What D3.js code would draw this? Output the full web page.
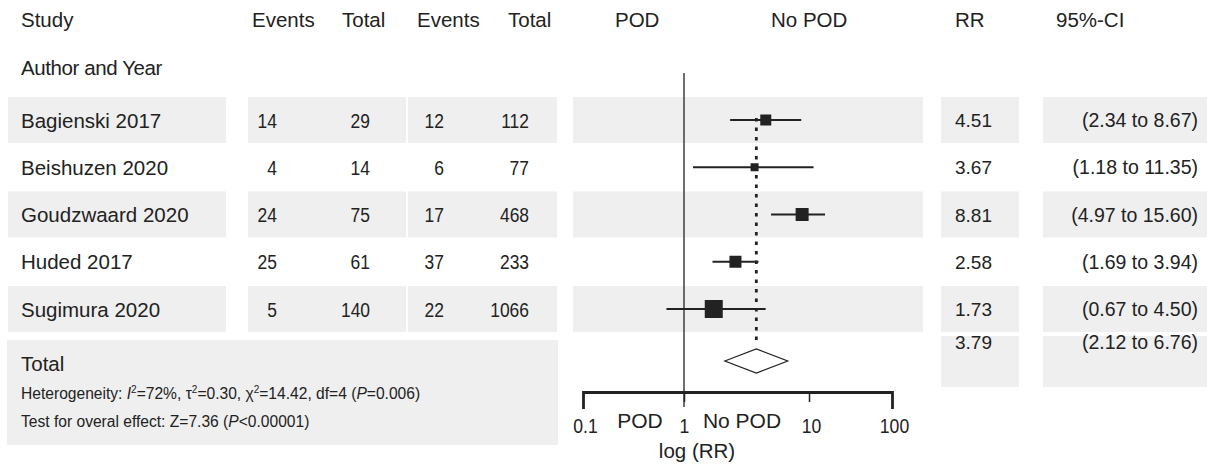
<!DOCTYPE html>
<html>
<head>
<meta charset="utf-8">
<script src="https://cdn.jsdelivr.net/npm/d3@7"></script>
<style>
  html, body { margin: 0; padding: 0; background: #ffffff; }
  svg { display: block; }
  text { font-family: "Liberation Sans", Arial, sans-serif; fill: #222; }
</style>
</head>
<body>
<svg id="chart" width="1207" height="468"></svg>
<script>
// ---------------- data ----------------
const studies      = ["Bagienski 2017", "Beishuzen 2020", "Goudzwaard 2020", "Huded 2017", "Sugimura 2020"];
const podEvents    = [14, 4, 24, 25, 5];
const podTotal     = [29, 14, 75, 61, 140];
const noPodEvents  = [12, 6, 17, 37, 22];
const noPodTotal   = [112, 77, 468, 233, 1066];
const rr           = [4.51, 3.67, 8.81, 2.58, 1.73];
const ciLow        = [2.34, 1.18, 4.97, 1.69, 0.67];
const ciHigh       = [8.67, 11.35, 15.60, 3.94, 4.50];
const ciText       = ["(2.34 to 8.67)", "(1.18 to 11.35)", "(4.97 to 15.60)", "(1.69 to 3.94)", "(0.67 to 4.50)"];
const weights      = [11, 8, 13, 12, 18];   // relative study weight (box size)
const pooledRR     = 3.79;
const pooledCI     = [2.12, 6.76];
const pooledCIText = "(2.12 to 6.76)";
const axisTicks    = [0.1, 1, 10, 100];
const headerLabels = ["Study", "Events", "Total", "Events", "Total", "POD", "No POD", "RR", "95%-CI"];

// ---------------- layout ----------------
const svg = d3.select("#chart");
const BAND = "#efefef";
const INK = "#222";
const NARROW = 0.83;

const y = d3.scaleBand().domain(studies).range([97, 97 + 5 * 47.25]).padding(0);
const rowH = 46;
const cy = s => y(s) + rowH / 2;

const x = d3.scaleLog().domain(axisTicks).range([583, 684, 809, 892]);
const boxSize = d3.scaleLinear().domain([0, d3.max(weights)]).range([0, 18]);

// header
const headerX = [21, 252, 342, 417, 508, 615, 771, 955, 1056];
svg.append("g").selectAll("text").data(headerLabels).join("text")
  .attr("x", (d, i) => headerX[i]).attr("y", 27)
  .attr("font-size", 20.5).text(d => d);
svg.append("text").attr("x", 21).attr("y", 75).attr("font-size", 20.5)
  .attr("letter-spacing", -0.4).text("Author and Year");

// shaded bands on alternating rows
const shaded = studies.filter((d, i) => i % 2 === 0);
const bandCols = [[8, 226], [248, 406], [408, 557], [573, 923], [941, 1019], [1043, 1207]];
const gBands = svg.append("g");
shaded.forEach(s => {
  bandCols.forEach(([a, b]) => {
    gBands.append("rect").attr("x", a).attr("y", y(s)).attr("width", b - a)
      .attr("height", rowH).attr("fill", BAND);
  });
});
// total row bands
gBands.append("rect").attr("x", 7).attr("y", 340).attr("width", 551).attr("height", 105).attr("fill", BAND);
gBands.append("rect").attr("x", 941).attr("y", 336).attr("width", 78).attr("height", 51).attr("fill", BAND);
gBands.append("rect").attr("x", 1043).attr("y", 336).attr("width", 164).attr("height", 51).attr("fill", BAND);

// study names
svg.append("g").selectAll("text").data(studies).join("text")
  .attr("x", 21).attr("y", d => cy(d) + 7.5).attr("font-size", 20.5).text(d => d);

// numeric columns (narrow digits)
const numCols = [[podEvents, 277], [podTotal, 370], [noPodEvents, 444], [noPodTotal, 529]];
const gNum = svg.append("g");
numCols.forEach(([arr, xr]) => {
  gNum.selectAll(null).data(arr).join("text")
    .attr("transform", (d, i) => `translate(${xr},${cy(studies[i]) + 7.5}) scale(${NARROW},1)`)
    .attr("text-anchor", "end")
    .attr("font-size", 21)
    .text(d => d);
});

// RR and CI columns
svg.append("g").selectAll("text").data(rr).join("text")
  .attr("x", 955).attr("y", (d, i) => cy(studies[i]) + 7)
  .attr("font-size", 19).text(d => d.toFixed(2));
svg.append("g").selectAll("text").data(ciText).join("text")
  .attr("x", 1198).attr("y", (d, i) => cy(studies[i]) + 7)
  .attr("text-anchor", "end").attr("font-size", 19.5).text(d => d);
svg.append("text").attr("x", 955).attr("y", 349).attr("font-size", 19).text(pooledRR.toFixed(2));
svg.append("text").attr("x", 1198).attr("y", 349).attr("text-anchor", "end").attr("font-size", 19.5).text(pooledCIText);

// total texts
svg.append("text").attr("x", 21).attr("y", 371).attr("font-size", 20.5).text("Total");
const het = svg.append("text").attr("x", 21).attr("y", 399).attr("font-size", 15.6);
het.append("tspan").text("Heterogeneity: ");
het.append("tspan").attr("font-style", "italic").text("I");
het.append("tspan").attr("font-size", 10).attr("dy", -6).text("2");
het.append("tspan").attr("dy", 6).text("=72%, τ");
het.append("tspan").attr("font-size", 10).attr("dy", -6).text("2");
het.append("tspan").attr("dy", 6).text("=0.30, χ");
het.append("tspan").attr("font-size", 10).attr("dy", -6).text("2");
het.append("tspan").attr("dy", 6).text("=14.42, df=4 (");
het.append("tspan").attr("font-style", "italic").text("P");
het.append("tspan").text("=0.006)");
const tst = svg.append("text").attr("x", 21).attr("y", 427).attr("font-size", 15.6);
tst.append("tspan").text("Test for overal effect: Z=7.36 (");
tst.append("tspan").attr("font-style", "italic").text("P");
tst.append("tspan").text("<0.00001)");

// ---------------- forest plot ----------------
const gF = svg.append("g");
// dotted pooled line
gF.append("line")
  .attr("x1", x(pooledRR)).attr("x2", x(pooledRR))
  .attr("y1", cy(studies[0]) - 2).attr("y2", 346)
  .attr("stroke", INK).attr("stroke-width", 2.8).attr("stroke-dasharray", "3.5,6");
// CI lines
gF.selectAll("line.ci").data(studies).join("line").attr("class", "ci")
  .attr("x1", (d, i) => x(ciLow[i])).attr("x2", (d, i) => x(ciHigh[i]))
  .attr("y1", d => cy(d)).attr("y2", d => cy(d))
  .attr("stroke", INK).attr("stroke-width", 2);
// boxes
gF.selectAll("rect.box").data(studies).join("rect").attr("class", "box")
  .attr("x", (d, i) => x(rr[i]) - boxSize(weights[i]) / 2)
  .attr("y", (d, i) => cy(d) - boxSize(weights[i]) / 2)
  .attr("width", (d, i) => boxSize(weights[i]))
  .attr("height", (d, i) => boxSize(weights[i]))
  .attr("fill", INK);
// reference line at 1
gF.append("line").attr("x1", x(1)).attr("x2", x(1)).attr("y1", 73).attr("y2", 407)
  .attr("stroke", INK).attr("stroke-width", 1.3);
// diamond
const dy0 = 361, dh = 12;
gF.append("path")
  .attr("d", `M${x(pooledCI[0])},${dy0} L${x(pooledRR)},${dy0 - dh} L${x(pooledCI[1])},${dy0} L${x(pooledRR)},${dy0 + dh} Z`)
  .attr("fill", "#fff").attr("stroke", INK).attr("stroke-width", 1.2);

// axis
const axis = d3.axisBottom(x).tickValues(axisTicks)
  .tickFormat(d => (d === 0.1 ? "0.1" : String(d)))
  .tickSizeOuter(17).tickSizeInner(10).tickPadding(4);
const gA = svg.append("g").attr("transform", "translate(0,392)").call(axis);
gA.select(".domain").attr("stroke", INK).attr("stroke-width", 2.8);
gA.selectAll(".tick line").attr("stroke", INK).attr("stroke-width", 1.5);
gA.selectAll(".tick text")
  .attr("y", null).attr("dy", null)
  .attr("transform", d => `translate(${d === 1 ? 0 : 2},41) scale(0.88,1)`)
  .attr("font-size", 20).attr("font-family", "'Liberation Sans', Arial, sans-serif")
  .attr("fill", INK);
gA.selectAll(".tick").filter(d => d === 0.1 || d === 100).select("line").attr("y2", 0);

// axis side labels
svg.append("text").attr("x", x(1) - 44).attr("y", 428).attr("text-anchor", "middle")
  .attr("font-size", 21).text("POD");
svg.append("text").attr("x", x(1) + 58).attr("y", 428).attr("text-anchor", "middle")
  .attr("font-size", 21).text("No POD");
svg.append("text").attr("x", 697).attr("y", 458).attr("text-anchor", "middle")
  .attr("font-size", 20.5).text("log (RR)");
</script>
</body>
</html>
